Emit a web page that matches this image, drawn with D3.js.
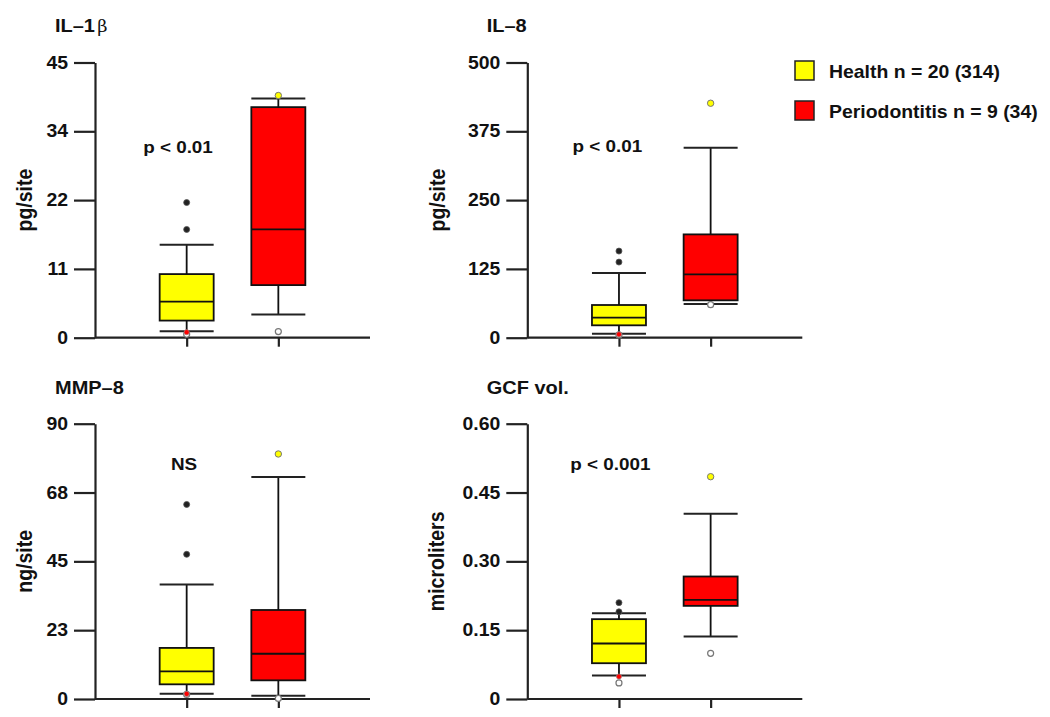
<!DOCTYPE html>
<html>
<head>
<meta charset="utf-8">
<script src="https://cdn.jsdelivr.net/npm/d3@7"></script>
<style>
  html, body { margin: 0; padding: 0; background: #fff; }
  svg { display: block; }
  text { font-family: "Liberation Sans", Arial, Helvetica, sans-serif; font-weight: bold; fill: #111; }
</style>
</head>
<body>
<svg id="chart" width="1050" height="717"></svg>
<script>
// ---------------- data ----------------
const groups = ["Health n = 20 (314)", "Periodontitis n = 9 (34)"];
const groupColors = ["#FFFF00", "#FF0000"];
const panelTitles = ["IL–1", "IL–8", "MMP–8", "GCF vol."];
const titleSuffix = ["β", "", "", ""];
const yLabels = ["pg/site", "pg/site", "ng/site", "microliters"];
const yMax = [45, 500, 90, 0.60];
const tickLabels = [
  ["0", "11", "22", "34", "45"],
  ["0", "125", "250", "375", "500"],
  ["0", "23", "45", "68", "90"],
  ["0", "0.15", "0.30", "0.45", "0.60"]
];
const pLabels = ["p < 0.01", "p < 0.01", "NS", "p < 0.001"];
// box stats: [lower whisker, Q1, median, Q3, upper whisker]
const healthBox = [
  [1.05, 2.8, 5.9, 10.4, 15.2],
  [7.3, 22.5, 36.3, 59.4, 117.5],
  [1.75, 4.8, 9.05, 16.7, 37.4],
  [0.051, 0.078, 0.121, 0.174, 0.187]
];
const perioBox = [
  [3.8, 8.6, 17.7, 37.7, 39.1],
  [61.2, 67.9, 115.1, 187.7, 345],
  [1.1, 6.1, 14.8, 29.1, 72.6],
  [0.136, 0.203, 0.216, 0.267, 0.404]
];
const healthOutliers = [[17.7, 22.1], [137.4, 157.4], [47.3, 63.6], [0.19, 0.21]];
const healthMin = [0.55, 5.0, 1.5, 0.035];
const healthRed = [0.9, 6.1, 1.7, 0.049];
const perioMax = [39.6, 426, 80.1, 0.4845];
const perioMin = [1.0, 60, 0.2, 0.0996];

// ---------------- layout ----------------
const SX = 1.11; // horizontal stretch of the original figure's lettering
const layout = [
  { ax: 95,    top: 62.5,  bottom: 337.7, titleX: 55,    titleY: 32,  ylabX: 31.5,  pX: 83, pY: 153 },
  { ax: 527.3, top: 62.5,  bottom: 337.7, titleX: 486.7, titleY: 32,  ylabX: 444.5, pX: 80, pY: 151.7 },
  { ax: 95,    top: 423.7, bottom: 699,   titleX: 55,    titleY: 394, ylabX: 32,    pX: 89, pY: 470 },
  { ax: 527.3, top: 423.7, bottom: 699,   titleX: 486.7, titleY: 394, ylabX: 444,   pX: 83, pY: 470 }
];
const axisLen = 275;
const boxW = 54;

const svg = d3.select("#chart");

function stretchedText(parent, x, y, str, size, anchor) {
  return parent.append("text")
    .attr("transform", `translate(${x},${y}) scale(${SX},1)`)
    .attr("text-anchor", anchor || "start")
    .style("font-size", size + "px")
    .text(str);
}

panelTitles.forEach((title, i) => {
  const L = layout[i];
  const g = svg.append("g");
  const y = d3.scaleLinear().domain([0, yMax[i]]).range([L.bottom, L.top]);
  const x = d3.scalePoint().domain(groups).range([L.ax, L.ax + axisLen]).padding(1);

  // title
  const t = stretchedText(g, L.titleX, L.titleY, title, 18);
  if (titleSuffix[i]) {
    t.append("tspan")
      .style("font-family", "'DejaVu Serif', 'Liberation Serif', serif")
      .style("font-weight", "normal")
      .style("font-size", "16px")
      .attr("dx", 2)
      .text(titleSuffix[i]);
  }

  // y axis
  const tickVals = tickLabels[i].map((_, k) => yMax[i] * k / (tickLabels[i].length - 1));
  const yAxis = d3.axisLeft(y).tickValues(tickVals)
    .tickFormat((d, k) => tickLabels[i][k]).tickSize(21).tickSizeOuter(0).tickPadding(6);
  const ya = g.append("g").attr("transform", `translate(${L.ax},0)`).call(yAxis);
  ya.select(".domain").attr("stroke", "#222").attr("stroke-width", 2.2);
  ya.selectAll(".tick line").attr("stroke", "#222").attr("stroke-width", 2.2);
  ya.selectAll(".tick text")
    .attr("x", 0)
    .attr("transform", `translate(-27,0) scale(${SX},1)`)
    .attr("fill", "#111")
    .style("font-size", "17.5px")
    .style("font-family", "'Liberation Sans', Arial, sans-serif")
    .style("font-weight", "bold");

  // x axis
  const xAxis = d3.axisBottom(x).tickFormat("").tickSize(9).tickSizeOuter(0);
  const xa = g.append("g").attr("transform", `translate(0,${L.bottom})`).call(xAxis);
  xa.select(".domain").attr("stroke", "#222").attr("stroke-width", 2.2)
    .attr("d", `M${L.ax},0H${L.ax + axisLen}`);
  xa.selectAll(".tick line").attr("stroke", "#222").attr("stroke-width", 2.2);

  // y-axis label
  g.append("text")
    .attr("transform", `translate(${L.ylabX},${(L.top + L.bottom) / 2}) rotate(-90) scale(1,${SX})`)
    .attr("text-anchor", "middle")
    .style("font-size", "19.5px")
    .text(yLabels[i]);

  // p label
  stretchedText(g, L.ax + L.pX, L.pY, pLabels[i], 17, "middle");

  // boxes
  const boxes = [healthBox[i], perioBox[i]];
  boxes.forEach((b, k) => {
    const cx = x(groups[k]);
    const bg = g.append("g");
    const stroke = "#111";
    // whiskers
    bg.append("line").attr("x1", cx).attr("x2", cx).attr("y1", y(b[4])).attr("y2", y(b[3]))
      .attr("stroke", stroke).attr("stroke-width", 1.8);
    bg.append("line").attr("x1", cx).attr("x2", cx).attr("y1", y(b[1])).attr("y2", y(b[0]))
      .attr("stroke", stroke).attr("stroke-width", 1.8);
    [b[0], b[4]].forEach(v => {
      bg.append("line").attr("x1", cx - boxW / 2).attr("x2", cx + boxW / 2)
        .attr("y1", y(v)).attr("y2", y(v)).attr("stroke", "#222").attr("stroke-width", 2);
    });
    // box
    bg.append("rect").attr("x", cx - boxW / 2).attr("width", boxW)
      .attr("y", y(b[3])).attr("height", y(b[1]) - y(b[3]))
      .attr("fill", groupColors[k]).attr("stroke", stroke).attr("stroke-width", 1.8);
    bg.append("line").attr("x1", cx - boxW / 2).attr("x2", cx + boxW / 2)
      .attr("y1", y(b[2])).attr("y2", y(b[2])).attr("stroke", stroke).attr("stroke-width", 1.8);
  });

  // points
  const hx = x(groups[0]), px = x(groups[1]);
  g.selectAll(".outl").data(healthOutliers[i]).enter().append("circle")
    .attr("cx", hx).attr("cy", d => y(d)).attr("r", 3)
    .attr("fill", "#222").attr("stroke", "#555").attr("stroke-width", 0.8);
  g.append("circle").attr("cx", hx).attr("cy", y(healthMin[i])).attr("r", 3)
    .attr("fill", "#fff").attr("stroke", "#777").attr("stroke-width", 1.2);
  g.append("circle").attr("cx", hx).attr("cy", y(healthRed[i])).attr("r", 2.6)
    .attr("fill", "#FF0000").attr("stroke", "#999").attr("stroke-width", 0.6);
  g.append("circle").attr("cx", px).attr("cy", y(perioMax[i])).attr("r", 3.2)
    .attr("fill", "#FFFF00").attr("stroke", "#777").attr("stroke-width", 1);
  g.append("circle").attr("cx", px).attr("cy", y(perioMin[i])).attr("r", 3)
    .attr("fill", "#fff").attr("stroke", "#777").attr("stroke-width", 1.2);
});

// legend
const leg = svg.append("g");
const legY = [61, 101];
groups.forEach((name, k) => {
  leg.append("rect").attr("x", 795).attr("y", legY[k]).attr("width", 19).attr("height", 19)
    .attr("fill", groupColors[k]).attr("stroke", "#222").attr("stroke-width", 1.5);
  stretchedText(leg, 829, legY[k] + 17, name, 17.5);
});
</script>
</body>
</html>
